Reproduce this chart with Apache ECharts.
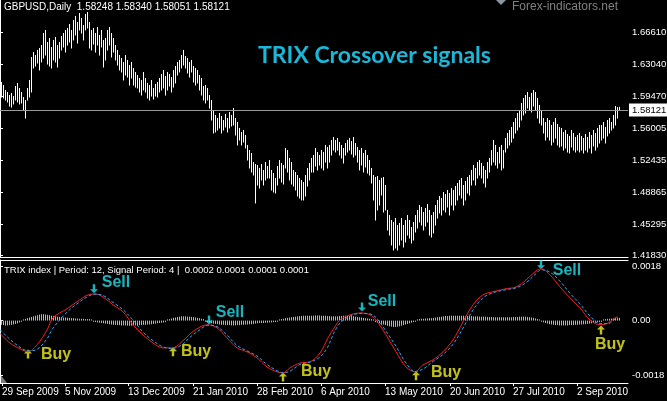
<!DOCTYPE html>
<html>
<head>
<meta charset="utf-8">
<script src="https://cdn.jsdelivr.net/npm/echarts@6/dist/echarts.min.js"></script>
<style>
html, body { margin: 0; padding: 0; background: #000; }
#chart { width: 667px; height: 401px; }
</style>
</head>
<body>
<div id="chart"></div>
<script>
// GBPUSD daily, one bar per trading day (high / low)
var highs = [
    1.6110, 1.6076, 1.6021, 1.5999, 1.5965, 1.5988, 1.5954, 1.6065, 1.6099, 1.6043,
    1.5999, 1.5943, 1.5910, 1.6043, 1.6132, 1.6387, 1.6442, 1.6409, 1.6465, 1.6487,
    1.6520, 1.6653, 1.6687, 1.6553, 1.6598, 1.6498, 1.6576, 1.6609, 1.6520, 1.6553,
    1.6620, 1.6653, 1.6687, 1.6709, 1.6753, 1.6687, 1.6797, 1.6842, 1.6775, 1.6875,
    1.6820, 1.6742, 1.6864, 1.6886, 1.6775, 1.6687, 1.6709, 1.6653, 1.6720, 1.6631,
    1.6687, 1.6576, 1.6598, 1.6687, 1.6720, 1.6653, 1.6598, 1.6520, 1.6465, 1.6409,
    1.6376, 1.6332, 1.6409, 1.6354, 1.6298, 1.6332, 1.6265, 1.6221, 1.6187, 1.6154,
    1.6132, 1.6221, 1.6154, 1.6099, 1.6076, 1.6132, 1.6043, 1.6088, 1.6110, 1.6154,
    1.6198, 1.6243, 1.6176, 1.6221, 1.6198, 1.6165, 1.6243, 1.6287, 1.6332, 1.6354,
    1.6409, 1.6465, 1.6398, 1.6376, 1.6332, 1.6354, 1.6287, 1.6265, 1.6243, 1.6187,
    1.6154, 1.6065, 1.6076, 1.6043, 1.5965, 1.5910, 1.5799, 1.5744, 1.5710, 1.5766,
    1.5733, 1.5688, 1.5755, 1.5710, 1.5777, 1.5744, 1.5821, 1.5710, 1.5666, 1.5600,
    1.5555, 1.5577, 1.5522, 1.5411, 1.5355, 1.5322, 1.5222, 1.5200, 1.5189, 1.5156,
    1.5200, 1.5134, 1.5222, 1.5178, 1.5244, 1.5134, 1.5100, 1.5045, 1.5178, 1.5244,
    1.5211, 1.5189, 1.5378, 1.5355, 1.5267, 1.5222, 1.5134, 1.5111, 1.5078, 1.5045,
    1.5023, 1.5000, 1.5078, 1.5156, 1.5211, 1.5267, 1.5300, 1.5378, 1.5333, 1.5300,
    1.5355, 1.5333, 1.5411, 1.5389, 1.5411, 1.5466, 1.5500, 1.5466, 1.5488, 1.5444,
    1.5411, 1.5378, 1.5433, 1.5466, 1.5488, 1.5455, 1.5500, 1.5433, 1.5389, 1.5355,
    1.5378, 1.5322, 1.5355, 1.5300, 1.5244, 1.5156, 1.5078, 1.5056, 1.5067, 1.5023,
    1.5045, 1.5056, 1.4967, 1.4690, 1.4634, 1.4579, 1.4557, 1.4601, 1.4523, 1.4546,
    1.4601, 1.4523, 1.4579, 1.4634, 1.4579, 1.4501, 1.4557, 1.4634, 1.4690, 1.4745,
    1.4723, 1.4668, 1.4712, 1.4757, 1.4690, 1.4634, 1.4668, 1.4745, 1.4801, 1.4845,
    1.4823, 1.4889, 1.4867, 1.4912, 1.4878, 1.4934, 1.4912, 1.4956, 1.4989, 1.5023,
    1.5045, 1.4967, 1.5011, 1.5056, 1.5078, 1.5134, 1.5189, 1.5156, 1.5222, 1.5244,
    1.5211, 1.5178, 1.5134, 1.5222, 1.5267, 1.5355, 1.5466, 1.5411, 1.5333, 1.5389,
    1.5411, 1.5355, 1.5488, 1.5544, 1.5577, 1.5611, 1.5666, 1.5710, 1.5766, 1.5799,
    1.5877, 1.5932, 1.5965, 1.5999, 1.5943, 1.5988, 1.6021, 1.5999, 1.5932, 1.5855,
    1.5799, 1.5710, 1.5666, 1.5710, 1.5688, 1.5633, 1.5666, 1.5710, 1.5644, 1.5611,
    1.5600, 1.5555, 1.5577, 1.5533, 1.5511, 1.5577, 1.5544, 1.5500, 1.5522, 1.5544,
    1.5511, 1.5488, 1.5533, 1.5500, 1.5555, 1.5522, 1.5577, 1.5544, 1.5600, 1.5633,
    1.5633, 1.5666, 1.5611, 1.5688, 1.5710, 1.5666, 1.5744, 1.5843, 1.5832, 1.5834
];
var lows = [
    1.5943, 1.5932, 1.5910, 1.5888, 1.5843, 1.5832, 1.5866, 1.5910, 1.5888, 1.5866,
    1.5877, 1.5799, 1.5710, 1.5910, 1.5943, 1.5999, 1.6265, 1.6287, 1.6320, 1.6243,
    1.6332, 1.6376, 1.6409, 1.6309, 1.6287, 1.6265, 1.6354, 1.6332, 1.6276, 1.6376,
    1.6465, 1.6498, 1.6442, 1.6520, 1.6553, 1.6487, 1.6576, 1.6631, 1.6542, 1.6687,
    1.6653, 1.6576, 1.6687, 1.6709, 1.6487, 1.6465, 1.6531, 1.6442, 1.6520, 1.6409,
    1.6498, 1.6276, 1.6354, 1.6465, 1.6520, 1.6387, 1.6442, 1.6354, 1.6298, 1.6243,
    1.6221, 1.6132, 1.6187, 1.6165, 1.6076, 1.6154, 1.6076, 1.6054, 1.6043, 1.5999,
    1.5965, 1.6021, 1.5999, 1.5932, 1.5910, 1.5954, 1.5921, 1.5954, 1.5943, 1.5999,
    1.6021, 1.6043, 1.5965, 1.6021, 1.6065, 1.5999, 1.6054, 1.6099, 1.6187, 1.6221,
    1.6265, 1.6298, 1.6265, 1.6210, 1.6165, 1.6221, 1.6110, 1.6076, 1.6099, 1.6021,
    1.5965, 1.5910, 1.5877, 1.5910, 1.5821, 1.5688, 1.5544, 1.5555, 1.5577, 1.5600,
    1.5544, 1.5577, 1.5611, 1.5555, 1.5600, 1.5622, 1.5633, 1.5522, 1.5411, 1.5466,
    1.5411, 1.5444, 1.5378, 1.5244, 1.5156, 1.5111, 1.5078, 1.4768, 1.4967, 1.4934,
    1.5023, 1.4967, 1.5023, 1.5045, 1.5045, 1.4912, 1.4889, 1.4878, 1.4967, 1.5045,
    1.5000, 1.4978, 1.5156, 1.5111, 1.5023, 1.4978, 1.4956, 1.4912, 1.4845, 1.4823,
    1.4801, 1.4801, 1.4845, 1.4956, 1.5023, 1.5111, 1.5111, 1.5178, 1.5134, 1.5189,
    1.5156, 1.5134, 1.5222, 1.5156, 1.5222, 1.5300, 1.5355, 1.5333, 1.5355, 1.5300,
    1.5267, 1.5211, 1.5300, 1.5333, 1.5355, 1.5311, 1.5278, 1.5300, 1.5222, 1.5134,
    1.5189, 1.5111, 1.5167, 1.5100, 1.5078, 1.4989, 1.4801, 1.4579, 1.4690, 1.4745,
    1.4856, 1.4668, 1.4690, 1.4468, 1.4412, 1.4302, 1.4246, 1.4268, 1.4246, 1.4302,
    1.4357, 1.4279, 1.4335, 1.4412, 1.4379, 1.4324, 1.4357, 1.4446, 1.4490, 1.4557,
    1.4523, 1.4468, 1.4512, 1.4557, 1.4412, 1.4390, 1.4435, 1.4523, 1.4601, 1.4657,
    1.4634, 1.4690, 1.4668, 1.4723, 1.4634, 1.4745, 1.4690, 1.4745, 1.4801, 1.4856,
    1.4823, 1.4745, 1.4801, 1.4878, 1.4856, 1.4967, 1.5023, 1.4967, 1.5045, 1.5078,
    1.5045, 1.4989, 1.4945, 1.5045, 1.5111, 1.5189, 1.5222, 1.5189, 1.5156, 1.5211,
    1.5134, 1.5156, 1.5333, 1.5378, 1.5411, 1.5444, 1.5488, 1.5544, 1.5577, 1.5611,
    1.5688, 1.5744, 1.5766, 1.5821, 1.5799, 1.5777, 1.5843, 1.5799, 1.5710, 1.5655,
    1.5633, 1.5544, 1.5466, 1.5500, 1.5466, 1.5411, 1.5444, 1.5488, 1.5411, 1.5389,
    1.5400, 1.5355, 1.5378, 1.5333, 1.5322, 1.5389, 1.5355, 1.5333, 1.5355, 1.5333,
    1.5355, 1.5322, 1.5355, 1.5333, 1.5378, 1.5322, 1.5400, 1.5355, 1.5389, 1.5433,
    1.5466, 1.5488, 1.5433, 1.5511, 1.5544, 1.5577, 1.5600, 1.5633, 1.5710, 1.5805
];
var lastOHLC = [1.58248, 1.58340, 1.58051, 1.58121];
var priceTicks = [1.66610, 1.63040, 1.59470, 1.56005, 1.52435, 1.48865, 1.45295, 1.41830];

// date labels and where they sit on the bar axis
var dateTickPos = [1, 32.5, 64, 96.5, 128.5, 160.5, 192.5, 225, 256.5, 288.5];
var dateLabels = ['29 Sep 2009', '5 Nov 2009', '13 Dec 2009', '21 Jan 2010', '28 Feb 2010',
    '6 Apr 2010', '13 May 2010', '20 Jun 2010', '27 Jul 2010', '2 Sep 2010'];

// TRIX(12) and its signal(4), [bar position, value]
var trix = [
    [0, -0.00042], [5, -0.00074], [10, -0.00093], [14, -0.00103], [18.5, -0.00080], [23.5, -0.00031],
    [26.5, 0.00009], [33.5, 0.00039], [38.5, 0.00062], [44, 0.00085], [47.5, 0.00088], [51.5, 0.00078],
    [56.5, 0.00052], [61.5, 0.00029], [66.5, -0.00014], [71.5, -0.00047], [76.5, -0.00074], [81.5, -0.00090],
    [86, -0.00090], [91, -0.00070], [95, -0.00044], [100, -0.00021], [104, -0.00014], [108.5, -0.00024],
    [113.5, -0.00057], [118.5, -0.00090], [123.5, -0.00103], [128.5, -0.00123], [133.5, -0.00153], [138.5, -0.00169],
    [141.5, -0.00173], [145, -0.00156], [150, -0.00140], [155, -0.00136], [160, -0.00107], [164, -0.00057],
    [167, -0.00025], [170, 0.00002], [175, 0.00019], [180.5, 0.00025], [185, 0.00019], [188, 0.00002],
    [193, -0.00047], [198, -0.00103], [203, -0.00153], [207.5, -0.00169], [211.5, -0.00146], [216.5, -0.00130],
    [221.5, -0.00103], [226.5, -0.00064], [231.5, -0.00004], [236.5, 0.00052], [241.5, 0.00085], [246.5, 0.00095],
    [253, 0.00105], [258, 0.00111], [263, 0.00134], [268, 0.00164], [270.5, 0.00171], [275, 0.00151],
    [280, 0.00111], [285, 0.00075], [290, 0.00042], [295, 0.00002], [300, -0.00014], [304, -0.00008],
    [307.5, 0.00009], [309, 0.00012]
];
var signal = [
    [0, -0.00030], [5, -0.00062], [10, -0.00088], [14, -0.00100], [18.5, -0.00095], [23.5, -0.00060],
    [26.5, -0.00025], [33.5, 0.00028], [38.5, 0.00055], [44, 0.00080], [47.5, 0.00087], [51.5, 0.00083],
    [56.5, 0.00060], [61.5, 0.00036], [66.5, 0.00002], [71.5, -0.00038], [76.5, -0.00066], [81.5, -0.00087],
    [86, -0.00092], [91, -0.00080], [95, -0.00055], [100, -0.00030], [104, -0.00015], [108.5, -0.00020],
    [113.5, -0.00048], [118.5, -0.00082], [123.5, -0.00100], [128.5, -0.00117], [133.5, -0.00145], [138.5, -0.00165],
    [141.5, -0.00172], [145, -0.00167], [150, -0.00145], [155, -0.00137], [160, -0.00120], [164, -0.00085],
    [167, -0.00040], [170, -0.00008], [175, 0.00015], [180.5, 0.00024], [185, 0.00022], [188, 0.00010],
    [193, -0.00035], [198, -0.00085], [203, -0.00140], [207.5, -0.00168], [211.5, -0.00160], [216.5, -0.00135],
    [221.5, -0.00112], [226.5, -0.00078], [231.5, -0.00025], [236.5, 0.00035], [241.5, 0.00075], [246.5, 0.00092],
    [253, 0.00102], [258, 0.00108], [263, 0.00125], [268, 0.00155], [270.5, 0.00168], [275, 0.00160],
    [280, 0.00130], [285, 0.00090], [290, 0.00055], [295, 0.00015], [300, -0.00010], [304, -0.00010],
    [307.5, 0.00005], [309, 0.00010]
];
// TRIX histogram, one per bar
var hist = [
    -0.00014, -0.00015, -0.00016, -0.00016, -0.00015, -0.00014, -0.00013, -0.00011, -0.00009, -0.00006,
    -0.00004, 0.00004, 0.00006, 0.00008, 0.00010, 0.00012, 0.00014, 0.00016, 0.00018, 0.00020,
    0.00021, 0.00021, 0.00020, 0.00019, 0.00018, 0.00016, 0.00015, 0.00014, 0.00013, 0.00012,
    0.00011, 0.00010, 0.00010, 0.00009, 0.00009, 0.00008, 0.00008, 0.00007, 0.00007, 0.00006,
    0.00006, 0.00006, 0.00005, 0.00005, 0.00005, 0.00004, -0.00004, -0.00005, -0.00006, -0.00007,
    -0.00008, -0.00009, -0.00010, -0.00011, -0.00012, -0.00013, -0.00014, -0.00014, -0.00015, -0.00015,
    -0.00016, -0.00016, -0.00016, -0.00017, -0.00017, -0.00017, -0.00016, -0.00016, -0.00016, -0.00015,
    -0.00015, -0.00014, -0.00014, -0.00013, -0.00013, -0.00012, -0.00011, -0.00010, -0.00009, -0.00008,
    -0.00007, -0.00006, -0.00005, 0.00004, 0.00005, 0.00007, 0.00009, 0.00010, 0.00012, 0.00013,
    0.00014, 0.00014, 0.00014, 0.00013, 0.00013, 0.00012, 0.00011, 0.00010, 0.00009, 0.00008,
    0.00006, 0.00005, -0.00004, -0.00006, -0.00007, -0.00009, -0.00010, -0.00011, -0.00012, -0.00013,
    -0.00014, -0.00014, -0.00015, -0.00015, -0.00015, -0.00016, -0.00016, -0.00016, -0.00015, -0.00015,
    -0.00014, -0.00014, -0.00013, -0.00013, -0.00012, -0.00012, -0.00011, -0.00010, -0.00009, -0.00008,
    -0.00008, -0.00008, -0.00007, -0.00007, -0.00006, -0.00006, -0.00005, -0.00005, -0.00004, 0.00004,
    0.00005, 0.00006, 0.00008, 0.00009, 0.00010, 0.00011, 0.00012, 0.00013, 0.00014, 0.00015,
    0.00015, 0.00016, 0.00016, 0.00016, 0.00016, 0.00016, 0.00016, 0.00017, 0.00017, 0.00017,
    0.00016, 0.00016, 0.00016, 0.00015, 0.00015, 0.00014, 0.00014, 0.00014, 0.00014, 0.00015,
    0.00015, 0.00016, 0.00016, 0.00016, 0.00015, 0.00015, 0.00014, 0.00013, 0.00012, 0.00011,
    0.00010, 0.00009, 0.00008, 0.00007, 0.00006, 0.00005, 0.00004, -0.00005, -0.00007, -0.00009,
    -0.00011, -0.00013, -0.00015, -0.00017, -0.00019, -0.00020, -0.00021, -0.00021, -0.00020, -0.00019,
    -0.00017, -0.00015, -0.00013, -0.00011, -0.00009, -0.00007, -0.00005, -0.00004, 0.00004, 0.00005,
    0.00006, 0.00006, 0.00007, 0.00007, 0.00008, 0.00008, 0.00009, 0.00010, 0.00011, 0.00012,
    0.00013, 0.00014, 0.00015, 0.00015, 0.00016, 0.00016, 0.00016, 0.00016, 0.00016, 0.00016,
    0.00016, 0.00016, 0.00015, 0.00015, 0.00015, 0.00015, 0.00014, 0.00014, 0.00014, 0.00013,
    0.00013, 0.00013, 0.00013, 0.00012, 0.00012, 0.00012, 0.00011, 0.00011, 0.00011, 0.00011,
    0.00011, 0.00011, 0.00011, 0.00011, 0.00011, 0.00011, 0.00012, 0.00012, 0.00012, 0.00013,
    0.00013, 0.00013, 0.00013, 0.00012, 0.00011, 0.00010, 0.00009, 0.00007, 0.00005, 0.00004,
    -0.00004, -0.00006, -0.00008, -0.00010, -0.00012, -0.00013, -0.00014, -0.00015, -0.00015, -0.00016,
    -0.00016, -0.00016, -0.00016, -0.00016, -0.00015, -0.00015, -0.00015, -0.00014, -0.00014, -0.00013,
    -0.00013, -0.00012, -0.00012, -0.00011, -0.00010, -0.00009, -0.00008, -0.00007, -0.00006, -0.00005,
    -0.00004, 0.00004, 0.00005, 0.00006, 0.00006, 0.00007, 0.00007, 0.00008, 0.00008, 0.00009
];
var trixTicks = [-0.0018, 0, 0.0018];

// crossover signals: [kind, bar position, value]
var signals = [
    ['Buy', 14, -0.00110],
    ['Sell', 47, 0.00105],
    ['Buy', 86.5, -0.00103],
    ['Sell', 104.5, 0.00002],
    ['Buy', 141.5, -0.00186],
    ['Sell', 181, 0.00045],
    ['Buy', 208, -0.00182],
    ['Sell', 270.5, 0.00184],
    ['Buy', 300.5, -0.00031]
];
// where each word sits from its arrow, px
var wordShift = [[28, 1], [22, -6], [23, 0], [21, -7], [33, -5], [20, -5], [30, -3], [26, 6], [9, 15]];

var FONT = "'Liberation Sans', Arial, sans-serif";
var BUY = '#f2f21c';
var SELL = '#1fe2ee';
var UP = 'path://M4,0 L8,4 L5.2,4 L5.2,9 L2.8,9 L2.8,4 L0,4 Z';

var barData = highs.map(function (h, i) { return [i + 0.5, lows[i], h]; });
var histData = hist.map(function (v, i) { return [i + 0.5, v]; });

function stick(params, api) {
    var lo = api.coord([api.value(0), api.value(1)]);
    var hi = api.coord([api.value(0), api.value(2)]);
    var x = Math.floor(lo[0]) + 0.5;
    return {
        type: 'line',
        shape: {x1: x, y1: lo[1] + 0.5, x2: x, y2: hi[1]},
        style: {stroke: '#ffffff', lineWidth: 1}
    };
}

function histBar(params, api) {
    var base = api.coord([api.value(0), 0]);
    var top = api.coord([api.value(0), api.value(1)]);
    var x = Math.floor(base[0]) + 0.5;
    return {
        type: 'line',
        shape: {x1: x, y1: base[1], x2: x, y2: top[1]},
        style: {stroke: '#b4b4b4', lineWidth: 1}
    };
}

var plainX = {
    type: 'value', min: 0, max: 314,
    axisLine: {show: true, onZero: false, lineStyle: {color: '#ffffff', width: 1}},
    axisTick: {show: false}, axisLabel: {show: false}, splitLine: {show: false}
};

var option = {
    backgroundColor: '#000000',
    animation: false,
    textStyle: {fontFamily: FONT},
    grid: [
        {left: 0, top: 0, width: 628, height: 257, outerBoundsMode: 'none'},
        {left: 0, top: 260, width: 628, height: 123, outerBoundsMode: 'none'}
    ],
    xAxis: [
        Object.assign({gridIndex: 0, position: 'bottom'}, plainX),
        {
            gridIndex: 1, type: 'value', min: 0, max: 314, position: 'bottom',
            axisLine: {show: true, onZero: false, lineStyle: {color: '#ffffff', width: 1}},
            axisTick: {show: true, customValues: dateTickPos, length: 3, lineStyle: {color: '#ffffff'}},
            axisLabel: {
                customValues: dateTickPos, color: '#ffffff', fontSize: 10, fontFamily: FONT,
                align: 'left', margin: 4,
                formatter: function (v) {
                    var k = dateTickPos.indexOf(v);
                    return k >= 0 ? dateLabels[k] : '';
                }
            },
            splitLine: {show: false}
        },
        Object.assign({gridIndex: 1, position: 'top'}, plainX)
    ],
    yAxis: [
        {
            gridIndex: 0, type: 'value', position: 'right',
            min: 1.41684, max: 1.70193,
            axisLine: {show: true, lineStyle: {color: '#ffffff'}},
            axisTick: {show: true, customValues: priceTicks, length: 3, lineStyle: {color: '#ffffff'}},
            axisLabel: {
                customValues: priceTicks, color: '#ffffff', fontSize: 9.5, fontFamily: FONT, margin: 4,
                formatter: function (v) { return v.toFixed(5); }
            },
            splitLine: {show: false}
        },
        {
            gridIndex: 1, type: 'value', position: 'right',
            min: -0.00206, max: 0.002,
            axisLine: {show: true, lineStyle: {color: '#ffffff'}},
            axisTick: {show: true, customValues: trixTicks, length: 3, lineStyle: {color: '#ffffff'}},
            axisLabel: {
                customValues: trixTicks, color: '#ffffff', fontSize: 9.5, fontFamily: FONT, margin: 4,
                formatter: function (v) { return v === 0 ? '0.00' : v.toFixed(4); }
            },
            splitLine: {show: false}
        }
    ],
    series: [
        {
            type: 'custom', name: 'GBPUSD', xAxisIndex: 0, yAxisIndex: 0,
            renderItem: stick, data: barData, silent: true,
            markLine: {
                silent: true, symbol: 'none',
                lineStyle: {color: '#9a9a9a', type: 'solid', width: 1},
                label: {
                    position: 'end', distance: 1, color: '#000000', backgroundColor: '#ffffff',
                    padding: [2, 3, 1, 3], fontSize: 9.5, fontFamily: FONT,
                    formatter: lastOHLC[3].toFixed(5)
                },
                data: [{yAxis: lastOHLC[3]}]
            }
        },
        {
            type: 'custom', name: 'hist', xAxisIndex: 1, yAxisIndex: 1,
            renderItem: histBar, data: histData, silent: true
        },
        {
            type: 'line', name: 'TRIX', xAxisIndex: 1, yAxisIndex: 1,
            data: trix, smooth: 0.35, showSymbol: false, silent: true,
            lineStyle: {color: '#ff1a1a', width: 1}
        },
        {
            type: 'line', name: 'Signal', xAxisIndex: 1, yAxisIndex: 1,
            data: signal, smooth: 0.35, showSymbol: false, silent: true,
            lineStyle: {color: '#2aa8ff', width: 1, type: [3, 2]}
        },
        {
            type: 'scatter', name: 'signals', xAxisIndex: 1, yAxisIndex: 1,
            symbol: UP, symbolSize: [8, 9], silent: true,
            data: signals.map(function (s, i) {
                var c = s[0] === 'Buy' ? BUY : SELL;
                return {
                    value: [s[1], s[2]],
                    symbolRotate: s[0] === 'Buy' ? 0 : 180,
                    itemStyle: {color: c},
                    label: {
                        show: true, position: 'inside', offset: wordShift[i],
                        formatter: s[0], color: c, fontSize: 16, fontWeight: 'bold', fontFamily: FONT
                    }
                };
            })
        }
    ],
    graphic: [
        {
            type: 'text', left: 4, top: 2, silent: true,
            style: {
                text: 'GBPUSD,Daily  ' + lastOHLC.map(function (v) { return v.toFixed(5); }).join(' '),
                fill: '#ffffff', font: '10px ' + FONT
            }
        },
        {
            type: 'text', left: 512, top: 1, silent: true,
            style: {text: 'Forex-indicators.net', fill: '#808080', font: '12px ' + FONT}
        },
        {
            type: 'polygon', silent: true,
            shape: {points: [[496, 0], [506, 0], [501, 5]]},
            style: {fill: '#8d97a3'}
        },
        {
            type: 'text', left: 258, top: 44, silent: true,
            style: {text: 'TRIX Crossover signals', fill: '#1ab8d8', font: "bold 23px Lato, 'Liberation Sans', sans-serif"}
        },
        {
            type: 'text', left: 4, top: 265, silent: true,
            style: {
                text: 'TRIX index | Period: 12, Signal Period: 4 |  0.0002 0.0001 0.0001 0.0001',
                fill: '#ffffff', font: '9.5px ' + FONT
            }
        },
        {
            type: 'polygon', silent: true,
            shape: {points: [[0, 374], [0, 383], [7, 383]]},
            style: {fill: '#7a7a7a'}
        }
    ]
};

var chart = echarts.init(document.getElementById('chart'), null, {renderer: 'canvas'});
chart.setOption(option);
</script>
</body>
</html>
